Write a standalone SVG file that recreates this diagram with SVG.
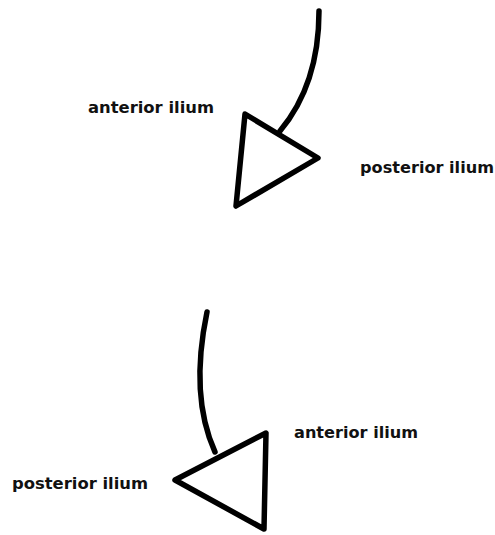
<svg xmlns="http://www.w3.org/2000/svg" width="495" height="535" viewBox="0 0 495 535">
  <style>
    .stroke { fill: none; stroke: #000; stroke-width: 5.5; stroke-linecap: round; stroke-linejoin: round; }
    .head { fill: #fff; stroke: #000; stroke-width: 5.5; stroke-linejoin: round; }
    .label { font-family: "DejaVu Sans", "Liberation Sans", sans-serif; font-weight: bold; font-size: 16px; fill: #111; }
  </style>
  <rect width="495" height="535" fill="#fff"/>

  <!-- upper arrow: curved shaft ending in an open triangular head -->
  <g id="arrow-upper">
    <path class="stroke" d="M319,11 C319,60 306,100 280,131"/>
    <path class="head" d="M245,114 L318,158 L236,206 Z"/>
  </g>
  <g id="label-upper-anterior">
    <text class="label" x="88" y="113" textLength="126" lengthAdjust="spacingAndGlyphs">anterior ilium</text>
  </g>
  <g id="label-upper-posterior">
    <text class="label" x="360" y="173" textLength="134" lengthAdjust="spacingAndGlyphs">posterior ilium</text>
  </g>

  <!-- lower arrow: shaft bending down into a left-pointing head -->
  <g id="arrow-lower">
    <path class="stroke" d="M207,312 C197,360 196,410 215,452"/>
    <path class="head" d="M175,480 L266,433 L264,529 Z"/>
  </g>
  <g id="label-lower-anterior">
    <text class="label" x="294" y="438" textLength="124" lengthAdjust="spacingAndGlyphs">anterior ilium</text>
  </g>
  <g id="label-lower-posterior">
    <text class="label" x="12" y="489" textLength="136" lengthAdjust="spacingAndGlyphs">posterior ilium</text>
  </g>
</svg>
